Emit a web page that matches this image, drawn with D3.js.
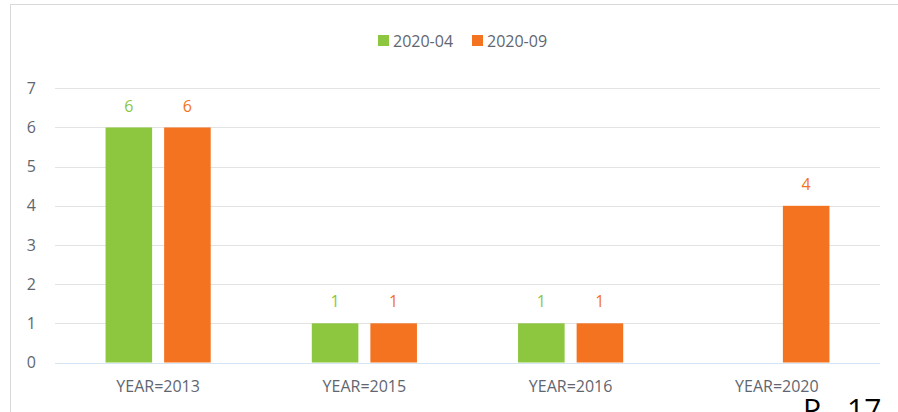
<!DOCTYPE html>
<html>
<head>
<meta charset="utf-8">
<script src="https://cdn.jsdelivr.net/npm/d3@7"></script>
<style>
  body { margin: 0; background: #fff; }
  text { font-family: "Open Sans", sans-serif; }
</style>
</head>
<body>
<svg id="chart" width="898" height="412"></svg>
<script>
// data
const categories = ['YEAR=2013', 'YEAR=2015', 'YEAR=2016', 'YEAR=2020'];
const seriesNames = ['2020-04', '2020-09'];
const values0409 = [
  [6, 1, 1, null],   // 2020-04
  [6, 1, 1, 4]       // 2020-09
];
const yTicks = [0, 1, 2, 3, 4, 5, 6, 7];
const colors = ['#8dc63f', '#f47321'];

let svg = d3.select('#chart');

// chart frame
svg.append('rect')
    .attr('x', 10.5).attr('y', 4.5)
    .attr('width', 900).attr('height', 420)
    .attr('fill', 'none')
    .attr('stroke', '#d9d9d9');

let x0 = d3.scaleBand()
    .domain(categories)
    .range([55, 880]);

let x1 = d3.scaleBand()
    .domain(seriesNames)
    .range([0, x0.bandwidth()])
    .paddingInner(0.205)
    .paddingOuter(0.863);

let y = d3.scaleLinear()
    .domain([0, 7])
    .range([362.5, 88.3]);

// gridlines
svg.append('g')
    .selectAll('line')
    .data(yTicks.filter(d => d > 0))
    .enter()
    .append('line')
    .attr('x1', 55).attr('x2', 880)
    .attr('y1', d => Math.round(y(d)) + 0.5)
    .attr('y2', d => Math.round(y(d)) + 0.5)
    .attr('stroke', '#e3e3e3');

// y tick labels
svg.append('g')
    .selectAll('text')
    .data(yTicks)
    .enter()
    .append('text')
    .attr('x', 36)
    .attr('y', d => y(d))
    .attr('dy', '0.35em')
    .attr('text-anchor', 'end')
    .attr('fill', '#5f6670')
    .style('font-size', '16px')
    .text(d => d);

// bars
let groups = svg.append('g')
    .selectAll('g')
    .data(seriesNames)
    .enter()
    .append('g');

groups.each(function(s, si) {
  let rows = categories.map((c, ci) => ({cat: c, v: values0409[si][ci]}))
        .filter(d => d.v != null);
  let g = d3.select(this);
  g.selectAll('rect')
      .data(rows)
      .enter()
      .append('rect')
      .attr('x', d => x0(d.cat) + x1(s))
      .attr('y', d => y(d.v))
      .attr('width', x1.bandwidth())
      .attr('height', d => y(0) - y(d.v))
      .attr('fill', colors[si]);
  g.selectAll('text')
      .data(rows)
      .enter()
      .append('text')
      .attr('x', d => x0(d.cat) + x1(s) + x1.bandwidth() / 2)
      .attr('y', d => y(d.v) - 21.5)
      .attr('dy', '0.35em')
      .attr('text-anchor', 'middle')
      .attr('fill', colors[si])
      .style('font-size', '16px')
      .text(d => d.v);
});

// zero line
svg.append('line')
    .attr('x1', 55).attr('x2', 880)
    .attr('y1', Math.round(y(0)) + 0.5)
    .attr('y2', Math.round(y(0)) + 0.5)
    .attr('stroke', '#d5e5f3')
    .attr('stroke-width', 1.2);

// x labels
svg.append('g')
    .selectAll('text')
    .data(categories)
    .enter()
    .append('text')
    .attr('x', d => x0(d) + x0.bandwidth() / 2)
    .attr('y', 386)
    .attr('dy', '0.35em')
    .attr('text-anchor', 'middle')
    .attr('fill', '#5f6670')
    .style('font-size', '16px')
    .text(d => d);

// legend
let legend = svg.append('g').attr('class', 'legend');
let legendX = [378, 472];
seriesNames.forEach(function(s, i) {
  legend.append('rect')
      .attr('x', legendX[i]).attr('y', 35)
      .attr('width', 11).attr('height', 11)
      .attr('fill', colors[i]);
  legend.append('text')
      .attr('x', legendX[i] + 15)
      .attr('y', 41)
      .attr('dy', '0.35em')
      .attr('fill', '#5f6670')
      .style('font-size', '16px')
      .text(s);
});

// page number cut at bottom edge
let pageNo = svg.append('g')
    .style('font-family', '"Liberation Serif", serif')
    .style('font-size', '30px')
    .attr('fill', '#000');
pageNo.append('text').attr('x', 803).attr('y', 420).text('P');
pageNo.append('text').attr('x', 847).attr('y', 420).text('17');
</script>
</body>
</html>
